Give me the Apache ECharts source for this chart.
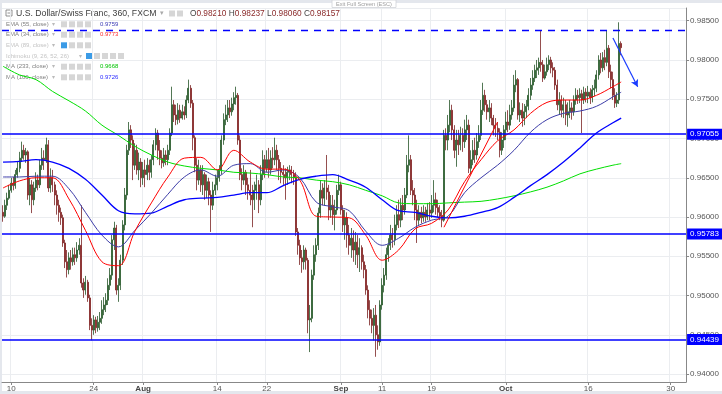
<!DOCTYPE html>
<html><head><meta charset="utf-8">
<script src="https://cdn.jsdelivr.net/npm/echarts@6/dist/echarts.min.js"></script>
<style>html,body{margin:0;padding:0;background:#fff}#c{width:722px;height:394px}</style>
</head><body><div id="c"></div><script>
// ---- data: 360-minute candles [open, close, low, high], Jul 7 - Oct 20 2017 ----
const candles = [
[0.9606,0.9601,0.9594,0.9615],[0.9601,0.9615,0.9599,0.9622],[0.9615,0.9624,0.9609,0.9631],[0.9624,0.9634,0.9622,0.9641],
[0.9634,0.9643,0.9631,0.9650],[0.9643,0.9640,0.9634,0.9651],[0.9640,0.9654,0.9636,0.9660],[0.9654,0.9662,0.9650,0.9670],
[0.9662,0.9675,0.9657,0.9683],[0.9675,0.9685,0.9670,0.9696],[0.9685,0.9679,0.9673,0.9692],[0.9679,0.9683,0.9669,0.9688],
[0.9683,0.9628,0.9622,0.9685],[0.9628,0.9641,0.9615,0.9650],[0.9641,0.9622,0.9605,0.9647],[0.9622,0.9637,0.9615,0.9645],
[0.9637,0.9647,0.9632,0.9657],[0.9647,0.9641,0.9634,0.9654],[0.9641,0.9666,0.9637,0.9673],[0.9666,0.9675,0.9660,0.9688],
[0.9675,0.9673,0.9660,0.9685],[0.9673,0.9692,0.9669,0.9701],[0.9692,0.9637,0.9632,0.9698],[0.9637,0.9650,0.9631,0.9662],
[0.9650,0.9641,0.9632,0.9660],[0.9641,0.9628,0.9615,0.9645],[0.9628,0.9615,0.9603,0.9634],[0.9615,0.9606,0.9594,0.9622],
[0.9606,0.9599,0.9590,0.9612],[0.9599,0.9567,0.9562,0.9603],[0.9567,0.9543,0.9535,0.9571],[0.9543,0.9533,0.9523,0.9558],
[0.9533,0.9548,0.9527,0.9555],[0.9548,0.9543,0.9533,0.9558],[0.9543,0.9552,0.9538,0.9561],[0.9552,0.9548,0.9539,0.9561],
[0.9548,0.9558,0.9543,0.9568],[0.9558,0.9564,0.9552,0.9573],[0.9564,0.9516,0.9510,0.9615],[0.9516,0.9507,0.9497,0.9522],
[0.9507,0.9517,0.9501,0.9525],[0.9517,0.9497,0.9492,0.9520],[0.9497,0.9462,0.9456,0.9501],[0.9462,0.9456,0.9443,0.9471],
[0.9456,0.9469,0.9450,0.9475],[0.9469,0.9459,0.9452,0.9473],[0.9459,0.9466,0.9454,0.9474],[0.9466,0.9471,0.9456,0.9479],
[0.9471,0.9482,0.9464,0.9494],[0.9482,0.9488,0.9475,0.9498],[0.9488,0.9494,0.9479,0.9503],[0.9494,0.9513,0.9488,0.9522],
[0.9513,0.9526,0.9507,0.9535],[0.9526,0.9571,0.9520,0.9577],[0.9571,0.9586,0.9558,0.9594],[0.9586,0.9507,0.9501,0.9590],
[0.9507,0.9513,0.9492,0.9522],[0.9513,0.9545,0.9507,0.9552],[0.9545,0.9590,0.9539,0.9596],[0.9590,0.9628,0.9583,0.9637],
[0.9628,0.9685,0.9622,0.9692],[0.9685,0.9711,0.9679,0.9721],[0.9711,0.9698,0.9688,0.9717],[0.9698,0.9666,0.9647,0.9704],
[0.9666,0.9685,0.9660,0.9694],[0.9685,0.9660,0.9654,0.9692],[0.9660,0.9670,0.9647,0.9682],[0.9670,0.9650,0.9638,0.9675],
[0.9650,0.9660,0.9641,0.9670],[0.9660,0.9654,0.9638,0.9673],[0.9654,0.9666,0.9647,0.9675],[0.9666,0.9657,0.9647,0.9673],
[0.9657,0.9673,0.9650,0.9679],[0.9673,0.9692,0.9666,0.9698],[0.9692,0.9707,0.9685,0.9713],[0.9707,0.9685,0.9673,0.9711],
[0.9685,0.9675,0.9666,0.9698],[0.9675,0.9669,0.9662,0.9685],[0.9669,0.9679,0.9664,0.9688],[0.9679,0.9673,0.9666,0.9685],
[0.9673,0.9685,0.9666,0.9692],[0.9685,0.9707,0.9679,0.9713],[0.9707,0.9743,0.9703,0.9766],[0.9743,0.9730,0.9721,0.9749],
[0.9730,0.9724,0.9717,0.9743],[0.9724,0.9736,0.9718,0.9745],[0.9736,0.9726,0.9720,0.9743],[0.9726,0.9734,0.9724,0.9743],
[0.9734,0.9730,0.9724,0.9741],[0.9730,0.9749,0.9726,0.9755],[0.9749,0.9764,0.9745,0.9775],[0.9764,0.9745,0.9739,0.9768],
[0.9745,0.9701,0.9685,0.9749],[0.9701,0.9666,0.9657,0.9704],[0.9666,0.9647,0.9634,0.9675],[0.9647,0.9660,0.9641,0.9673],
[0.9660,0.9641,0.9632,0.9666],[0.9641,0.9654,0.9628,0.9666],[0.9654,0.9634,0.9622,0.9657],[0.9634,0.9645,0.9624,0.9654],
[0.9645,0.9628,0.9615,0.9650],[0.9628,0.9615,0.9581,0.9634],[0.9615,0.9634,0.9609,0.9645],[0.9634,0.9641,0.9628,0.9654],
[0.9641,0.9650,0.9634,0.9660],[0.9650,0.9660,0.9645,0.9666],[0.9660,0.9698,0.9654,0.9704],[0.9698,0.9724,0.9692,0.9732],
[0.9724,0.9730,0.9717,0.9743],[0.9730,0.9739,0.9721,0.9749],[0.9739,0.9734,0.9726,0.9749],[0.9734,0.9744,0.9729,0.9752],
[0.9744,0.9752,0.9736,0.9759],[0.9752,0.9755,0.9743,0.9766],[0.9755,0.9698,0.9692,0.9758],[0.9698,0.9654,0.9647,0.9704],
[0.9654,0.9647,0.9634,0.9662],[0.9647,0.9657,0.9641,0.9666],[0.9657,0.9641,0.9628,0.9660],[0.9641,0.9634,0.9622,0.9650],
[0.9634,0.9628,0.9615,0.9660],[0.9628,0.9622,0.9587,0.9641],[0.9622,0.9634,0.9609,0.9645],[0.9634,0.9641,0.9622,0.9654],
[0.9641,0.9622,0.9605,0.9647],[0.9622,0.9654,0.9615,0.9666],[0.9654,0.9673,0.9647,0.9685],[0.9673,0.9662,0.9650,0.9679],
[0.9662,0.9673,0.9657,0.9685],[0.9673,0.9660,0.9650,0.9688],[0.9660,0.9675,0.9654,0.9685],[0.9675,0.9673,0.9662,0.9689],
[0.9673,0.9685,0.9666,0.9701],[0.9685,0.9673,0.9660,0.9692],[0.9673,0.9662,0.9647,0.9679],[0.9662,0.9657,0.9643,0.9670],
[0.9657,0.9654,0.9641,0.9666],[0.9654,0.9650,0.9622,0.9662],[0.9650,0.9657,0.9641,0.9664],[0.9657,0.9660,0.9647,0.9666],
[0.9660,0.9654,0.9643,0.9665],[0.9654,0.9650,0.9641,0.9660],[0.9650,0.9581,0.9576,0.9657],[0.9581,0.9564,0.9552,0.9586],
[0.9564,0.9548,0.9539,0.9571],[0.9548,0.9543,0.9529,0.9558],[0.9543,0.9558,0.9533,0.9564],[0.9558,0.9545,0.9533,0.9561],
[0.9545,0.9469,0.9452,0.9548],[0.9469,0.9471,0.9428,0.9488],[0.9471,0.9526,0.9466,0.9533],[0.9526,0.9552,0.9520,0.9564],
[0.9552,0.9564,0.9543,0.9573],[0.9564,0.9605,0.9558,0.9612],[0.9605,0.9634,0.9599,0.9647],[0.9634,0.9624,0.9615,0.9643],
[0.9624,0.9637,0.9615,0.9647],[0.9637,0.9632,0.9622,0.9679],[0.9632,0.9609,0.9596,0.9641],[0.9609,0.9615,0.9599,0.9628],
[0.9615,0.9603,0.9590,0.9628],[0.9603,0.9609,0.9583,0.9622],[0.9609,0.9634,0.9603,0.9641],[0.9634,0.9641,0.9628,0.9654],
[0.9641,0.9609,0.9603,0.9645],[0.9609,0.9590,0.9581,0.9615],[0.9590,0.9599,0.9571,0.9609],[0.9599,0.9577,0.9561,0.9606],
[0.9577,0.9564,0.9552,0.9590],[0.9564,0.9573,0.9548,0.9586],[0.9573,0.9558,0.9543,0.9583],[0.9558,0.9568,0.9539,0.9581],
[0.9568,0.9552,0.9535,0.9577],[0.9552,0.9561,0.9530,0.9573],[0.9561,0.9543,0.9533,0.9564],[0.9543,0.9533,0.9522,0.9552],
[0.9533,0.9507,0.9501,0.9539],[0.9507,0.9482,0.9471,0.9513],[0.9482,0.9471,0.9462,0.9494],[0.9471,0.9462,0.9452,0.9482],
[0.9462,0.9475,0.9443,0.9484],[0.9475,0.9450,0.9422,0.9488],[0.9450,0.9441,0.9431,0.9462],[0.9441,0.9488,0.9436,0.9494],
[0.9488,0.9513,0.9482,0.9522],[0.9513,0.9526,0.9504,0.9535],[0.9526,0.9552,0.9520,0.9561],[0.9552,0.9564,0.9543,0.9573],
[0.9564,0.9577,0.9558,0.9590],[0.9577,0.9571,0.9561,0.9586],[0.9571,0.9590,0.9564,0.9603],[0.9590,0.9603,0.9583,0.9615],
[0.9603,0.9596,0.9586,0.9622],[0.9596,0.9615,0.9587,0.9624],[0.9615,0.9609,0.9596,0.9628],[0.9609,0.9628,0.9603,0.9637],
[0.9628,0.9666,0.9624,0.9679],[0.9666,0.9673,0.9657,0.9704],[0.9673,0.9634,0.9628,0.9679],[0.9634,0.9628,0.9615,0.9647],
[0.9628,0.9609,0.9596,0.9637],[0.9609,0.9596,0.9567,0.9622],[0.9596,0.9606,0.9590,0.9615],[0.9606,0.9599,0.9592,0.9613],
[0.9599,0.9606,0.9594,0.9615],[0.9606,0.9600,0.9594,0.9613],[0.9600,0.9609,0.9596,0.9618],[0.9609,0.9605,0.9596,0.9619],
[0.9605,0.9615,0.9599,0.9628],[0.9615,0.9622,0.9606,0.9647],[0.9622,0.9612,0.9603,0.9631],[0.9612,0.9606,0.9600,0.9622],
[0.9606,0.9601,0.9596,0.9615],[0.9601,0.9596,0.9587,0.9609],[0.9596,0.9704,0.9594,0.9711],[0.9704,0.9698,0.9685,0.9713],
[0.9698,0.9717,0.9685,0.9730],[0.9717,0.9736,0.9708,0.9749],[0.9736,0.9711,0.9698,0.9743],[0.9711,0.9685,0.9675,0.9717],
[0.9685,0.9698,0.9664,0.9711],[0.9698,0.9692,0.9679,0.9711],[0.9692,0.9704,0.9685,0.9715],[0.9704,0.9696,0.9683,0.9713],
[0.9696,0.9711,0.9688,0.9724],[0.9711,0.9717,0.9698,0.9730],[0.9717,0.9662,0.9656,0.9724],[0.9662,0.9673,0.9654,0.9685],
[0.9673,0.9685,0.9666,0.9698],[0.9685,0.9679,0.9669,0.9701],[0.9679,0.9696,0.9673,0.9707],[0.9696,0.9704,0.9688,0.9717],
[0.9704,0.9736,0.9698,0.9749],[0.9736,0.9755,0.9730,0.9771],[0.9755,0.9743,0.9734,0.9762],[0.9743,0.9734,0.9724,0.9749],
[0.9734,0.9739,0.9721,0.9749],[0.9739,0.9726,0.9717,0.9745],[0.9726,0.9717,0.9704,0.9730],[0.9717,0.9713,0.9702,0.9726],
[0.9713,0.9708,0.9698,0.9721],[0.9708,0.9685,0.9676,0.9713],[0.9685,0.9698,0.9679,0.9708],[0.9698,0.9711,0.9688,0.9717],
[0.9711,0.9721,0.9698,0.9734],[0.9721,0.9717,0.9708,0.9736],[0.9717,0.9730,0.9711,0.9743],[0.9730,0.9739,0.9724,0.9749],
[0.9739,0.9768,0.9734,0.9781],[0.9768,0.9775,0.9759,0.9787],[0.9775,0.9730,0.9724,0.9777],[0.9730,0.9736,0.9721,0.9746],
[0.9736,0.9726,0.9715,0.9745],[0.9726,0.9734,0.9717,0.9744],[0.9734,0.9741,0.9726,0.9749],[0.9741,0.9755,0.9736,0.9764],
[0.9755,0.9768,0.9749,0.9777],[0.9768,0.9777,0.9762,0.9787],[0.9777,0.9787,0.9772,0.9794],[0.9787,0.9790,0.9777,0.9800],
[0.9790,0.9797,0.9781,0.9803],[0.9797,0.9794,0.9785,0.9838],[0.9794,0.9777,0.9772,0.9800],[0.9777,0.9785,0.9775,0.9794],
[0.9785,0.9794,0.9780,0.9803],[0.9794,0.9800,0.9787,0.9806],[0.9800,0.9790,0.9783,0.9804],[0.9790,0.9787,0.9778,0.9797],
[0.9787,0.9768,0.9762,0.9791],[0.9768,0.9743,0.9736,0.9775],[0.9743,0.9749,0.9730,0.9759],[0.9749,0.9736,0.9727,0.9755],
[0.9736,0.9743,0.9726,0.9752],[0.9743,0.9730,0.9717,0.9749],[0.9730,0.9734,0.9715,0.9746],[0.9734,0.9739,0.9726,0.9749],
[0.9739,0.9734,0.9724,0.9746],[0.9734,0.9749,0.9729,0.9755],[0.9749,0.9755,0.9743,0.9764],[0.9755,0.9752,0.9744,0.9762],
[0.9752,0.9757,0.9745,0.9764],[0.9757,0.9749,0.9707,0.9762],[0.9749,0.9759,0.9744,0.9766],[0.9759,0.9754,0.9746,0.9764],
[0.9754,0.9759,0.9745,0.9767],[0.9759,0.9752,0.9744,0.9764],[0.9752,0.9762,0.9746,0.9768],[0.9762,0.9764,0.9754,0.9775],
[0.9764,0.9781,0.9759,0.9787],[0.9781,0.9800,0.9775,0.9806],[0.9800,0.9790,0.9783,0.9809],[0.9790,0.9803,0.9785,0.9810],
[0.9803,0.9797,0.9787,0.9813],[0.9797,0.9815,0.9792,0.9838],[0.9815,0.9785,0.9777,0.9819],[0.9785,0.9775,0.9764,0.9794],
[0.9775,0.9755,0.9749,0.9785],[0.9755,0.9745,0.9739,0.9764],[0.9745,0.9749,0.9740,0.9759],[0.9749,0.9821,0.9744,0.9848],
[0.98210,0.98157,0.98060,0.98237]
];
// moving averages, sampled every 8th candle (2 trading days) plus the last candle
const ema55 = [0.9651,0.9651,0.9652,0.9652,0.9636,0.9606,0.9577,0.9562,0.9583,0.9605,0.9629,0.9651,0.9660,0.9652,0.9666,0.9668,0.9657,0.9660,0.9650,0.9619,0.9613,0.9608,0.9582,0.9564,0.9573,0.9587,0.9596,0.9601,0.9631,0.9650,0.9666,0.9685,0.9708,0.9724,0.9732,0.9735,0.9741,0.9753,0.9759];
const ema34 = [0.9637,0.9646,0.9650,0.9650,0.9623,0.9583,0.9543,0.9538,0.9582,0.9618,0.9651,0.9675,0.9676,0.9660,0.9685,0.9670,0.9661,0.9661,0.9647,0.9601,0.9600,0.9599,0.9577,0.9545,0.9558,0.9585,0.9592,0.9609,0.9645,0.9673,0.9697,0.9711,0.9732,0.9746,0.9749,0.9749,0.9755,0.9766,0.9772];
const ma233 = [0.9792,0.9781,0.9775,0.9760,0.9748,0.9735,0.9717,0.9704,0.9690,0.9679,0.9670,0.9665,0.9662,0.9660,0.9657,0.9656,0.9654,0.9651,0.9650,0.9647,0.9645,0.9641,0.9634,0.9627,0.9618,0.9617,0.9617,0.9618,0.9619,0.9620,0.9623,0.9627,0.9632,0.9638,0.9646,0.9655,0.9661,0.9666,0.9668];
const ma100 = [0.9670,0.9671,0.9673,0.9670,0.9662,0.9648,0.9628,0.9608,0.9604,0.9605,0.9614,0.9622,0.9624,0.9625,0.9628,0.9631,0.9631,0.9640,0.9648,0.9652,0.9654,0.9647,0.9638,0.9622,0.9608,0.9606,0.9601,0.9599,0.9601,0.9606,0.9612,0.9625,0.9640,0.9654,0.9670,0.9688,0.9707,0.9720,0.9726];
const supportLevels = [0.97055, 0.95783, 0.94439];
const resistanceLevel = 0.9838;
const lastPrice = 0.98157;
const ohlcValues = [['O','0.98210'],['H','0.98237'],['L','0.98060'],['C','0.98157']];
const trendLine = [[214, 0.9587], [240, 0.9721]];
const arrowLine = [[296, 0.9828], [308, 0.9766]];
const tickLabels = {'2017-07-10 00':'10','2017-07-24 00':'24','2017-08-01 00':'Aug','2017-08-14 00':'14','2017-08-22 00':'22','2017-09-04 00':'Sep','2017-09-11 00':'11','2017-09-19 00':'19','2017-10-02 00':'Oct','2017-10-16 00':'16','2017-10-30 00':'30'};
const legendRows = [
  {name:'EMA (55, close)', value:'0.9759', color:'#3a3ab4', dim:false, icons:4},
  {name:'EMA (34, close)', value:'0.9773', color:'#ff2a2a', dim:false, icons:4},
  {name:'EMA (89, close)', value:null, dim:true, icons:4},
  {name:'Ichimoku (9, 26, 52, 26)', value:null, dim:true, icons:5},
  {name:'MA (233, close)', value:'0.9668', color:'#00c400', dim:false, icons:4},
  {name:'MA (100, close)', value:'0.9726', color:'#2a2aff', dim:false, icons:4}
];

// ---- categories: 4 slots per trading day ----
const categories = [];
(function(){
  const d = new Date(Date.UTC(2017,6,7));
  while (categories.length < 330) {
    const wd = d.getUTCDay();
    if (wd !== 0 && wd !== 6) {
      const s = d.toISOString().slice(0,10);
      ['00','06','12','18'].forEach(h => categories.push(s + ' ' + h));
    }
    d.setUTCDate(d.getUTCDate() + 1);
  }
})();
const maSlots = Array.from({length: 38}, (_, k) => k * 8).concat([candles.length - 1]);
function maSeries(name, vals, color, width) {
  const data = new Array(categories.length).fill(null);
  vals.forEach((v, k) => { data[maSlots[k]] = v; });
  return {type:'line', name, data, connectNulls:true, showSymbol:false, smooth:0.35, silent:true, z:4,
          lineStyle:{color, width}, animation:false};
}
const isTick = (i, v) => tickLabels[v] !== undefined;
const FONT = '"Liberation Sans", Arial, sans-serif';

// ---- graphic (header legend) ----
const g = [];
g.push({type:'rect', shape:{x:0,y:0,width:722,height:3}, style:{fill:'#e4e7ed'}, silent:true});
g.push({type:'rect', shape:{x:0,y:0,width:2,height:394}, style:{fill:'#e4e7ed'}, silent:true});
g.push({type:'rect', shape:{x:0,y:391,width:722,height:3}, style:{fill:'#e4e7ed'}, silent:true});
g.push({type:'rect', shape:{x:332,y:0,width:64,height:7.5}, style:{fill:'#fff', stroke:'#d0d3d8', lineWidth:0.8}, silent:true});
g.push({type:'text', x:364, y:4, style:{text:'Exit Full Screen (ESC)', fill:'#a0a0a0', font:'5.6px ' + FONT, align:'center', verticalAlign:'middle'}, silent:true});
g.push({type:'rect', shape:{x:6,y:10,width:6,height:6}, style:{fill:'none', stroke:'#777', lineWidth:0.8}, silent:true});
g.push({type:'line', shape:{x1:7.5,y1:13,x2:10.5,y2:13}, style:{stroke:'#777', lineWidth:0.8}, silent:true});
g.push({type:'text', x:16, y:13.5, style:{text:'U.S. Dollar/Swiss Franc, 360, FXCM', fill:'#3c3c3c', font:'8.7px ' + FONT, verticalAlign:'middle'}, silent:true});
g.push({type:'text', x:160, y:13.5, style:{text:'▾', fill:'#aaa', font:'7px ' + FONT, verticalAlign:'middle'}, silent:true});
[169,177].forEach(x => g.push({type:'rect', shape:{x, y:10.5, width:6, height:6}, style:{fill:'#d6d6d6'}, silent:true}));
g.push({type:'text', x:190, y:13.5, style:{
  text: ohlcValues.map(([k,v]) => '{k|' + k + '}{v|' + v + '}').join(' '),
  font:'8.3px ' + FONT, verticalAlign:'middle',
  rich:{k:{fill:'#444', font:'8.3px ' + FONT}, v:{fill:'#8a2a2a', font:'8.3px ' + FONT}}}, silent:true});
const rowY = [24.3, 34.7, 45.3, 56, 66.7, 77.3];
legendRows.forEach((r, i) => {
  const y = rowY[i];
  const longName = r.icons === 5;
  g.push({type:'text', x:6, y, style:{text:r.name, fill: r.dim ? '#c4c4c4' : '#808080', font:'6px ' + FONT, verticalAlign:'middle'}, silent:true});
  const caretX = longName ? 79 : 52;
  g.push({type:'text', x:caretX, y, style:{text:'▾', fill:'#bbb', font:'6px ' + FONT, verticalAlign:'middle'}, silent:true});
  const ix0 = longName ? 86 : 61;
  for (let k = 0; k < r.icons; k++) {
    const fill = (r.dim && k === 0) ? '#3b9be6' : '#d6d6d6';
    g.push({type:'rect', shape:{x: ix0 + k * 8, y: y - 3, width:6, height:6}, style:{fill}, silent:true});
  }
  if (r.value) g.push({type:'text', x:100, y, style:{text:r.value, fill:r.color, font:'6px ' + FONT, verticalAlign:'middle'}, silent:true});
});

const boxLabel = (text, bg) => ({show:true, position:'end', distance:1, formatter:text, backgroundColor:bg, color:'#fff', fontSize:8, fontFamily:FONT, padding:[2,3,1,3]});
const markData = [];
supportLevels.forEach(v => markData.push({yAxis:v, lineStyle:{color:'#0000ff', width:1.5, type:'solid'}, label:boxLabel(v.toFixed(5), '#0000ff')}));
markData.push({yAxis:resistanceLevel, lineStyle:{color:'#0000ff', width:1.3, type:[7,6]}, label:{show:false}});
markData.push({yAxis:lastPrice, lineStyle:{opacity:0}, label:boxLabel(lastPrice.toFixed(5), '#ff0000')});
markData.push([{coord:trendLine[0], symbol:'none'}, {coord:trendLine[1], symbol:'none', lineStyle:{color:'#ff0000', width:1, type:'solid'}, label:{show:false}}]);
markData.push([{coord:arrowLine[0], symbol:'none'}, {coord:arrowLine[1], symbol:'arrow', symbolSize:[6,7], lineStyle:{color:'#1a3cff', width:1.2, type:'solid'}, label:{show:false}}]);

const chart = echarts.init(document.getElementById('c'), null, {renderer:'canvas'});
chart.setOption({
  animation:false,
  backgroundColor:'#ffffff',
  grid:{left:2, right:34, top:8, bottom:12, containLabel:false},
  xAxis:{type:'category', data:categories, boundaryGap:true,
    axisLine:{lineStyle:{color:'#888'}},
    axisTick:{show:true, interval:isTick, length:3, alignWithLabel:true, lineStyle:{color:'#888'}},
    axisLabel:{interval:isTick, margin:3, fontSize:8, color:'#555', fontFamily:FONT,
      formatter:v => { const t = tickLabels[v]; return /[A-Za-z]/.test(t) ? '{m|' + t + '}' : t; },
      rich:{m:{fontSize:8, fontWeight:'bold', color:'#444', fontFamily:FONT}}},
    splitLine:{show:true, interval:isTick, lineStyle:{color:'#ebedf0', width:1}}},
  yAxis:{type:'value', position:'right', scale:true, min:0.93899, max:0.98662, splitNumber:9, minInterval:0.005, maxInterval:0.005,
    axisLine:{show:true, lineStyle:{color:'#888'}},
    axisTick:{show:true, length:3, lineStyle:{color:'#888'}},
    axisLabel:{margin:4, fontSize:8, color:'#555', fontFamily:FONT, showMinLabel:false, showMaxLabel:false, formatter:v => v.toFixed(5)},
    splitLine:{show:true, lineStyle:{color:'#ebedf0', width:1}}},
  graphic:g,
  series:[
    {type:'candlestick', data:candles, barWidth:1.5, z:2,
      itemStyle:{color:'#2f7f2f', color0:'#c02020', borderColor:'#27552a', borderColor0:'#7a2222', borderWidth:0.8},
      markLine:{silent:true, animation:false, symbol:'none', precision:5, data:markData}},
    maSeries('MA 233', ma233, '#00e000', 1),
    maSeries('MA 100', ma100, '#0000ff', 1.3),
    maSeries('EMA 55', ema55, '#3c3ca8', 1),
    maSeries('EMA 34', ema34, '#ff0000', 1)
  ]
});
</script></body></html>
